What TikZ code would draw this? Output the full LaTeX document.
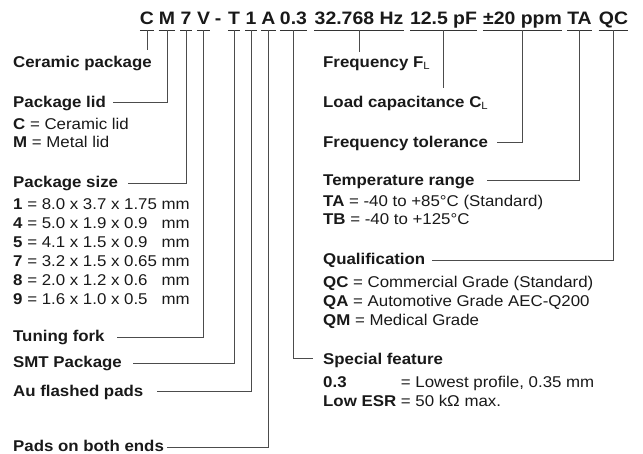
\documentclass[tikz,border=0pt]{standalone}
\usepackage{fontspec}
\setmainfont{Liberation Sans}[FakeStretch=1.08]
\newcommand{\subl}[1]{\raisebox{-1.5pt}{\fontsize{10.5}{10}\selectfont\mdseries #1}}
\tikzset{
  code/.style={anchor=base, inner sep=0pt, text height=13pt, text depth=5pt,
    font=\fontsize{18}{20}\selectfont\bfseries},
  lbl/.style={anchor=base west, inner sep=0pt, text height=11pt, text depth=0pt,
    font=\fontsize{15.6}{18.9}\selectfont\bfseries},
  txt/.style={anchor=base west, inner sep=0pt, font=\fontsize{15.6}{18.9}\selectfont},
  uline/.style={line width=0.8pt, black!80},
  lead/.style={line width=0.8pt, black!70},
}
\begin{document}
\begin{tikzpicture}[x=1pt,y=-1pt,text=black!90]
  \useasboundingbox (0,0) rectangle (643,454);

  % codice
  \node[code] (sC) at (147,25) {C};
  \node[code] (sM) at (167,25) {M};
  \node[code] (s7) at (186,25) {7};
  \node[code] (sV) at (203.5,25) {V};
  \node[code] (sDash) at (218,25) {-};
  \node[code] (sT) at (234,25) {T};
  \node[code] (s1) at (251,25) {1};
  \node[code] (sA) at (268.5,25) {A};
  \node[code] (s03) at (293.5,25) {0.3};
  \node[code] (sHz) at (359,25) {32.768 Hz};
  \node[code] (spF) at (443.5,25) {12.5 pF};
  \node[code] (sppm) at (522.5,25) {±20 ppm};
  \node[code] (sTA) at (579.5,25) {TA};
  \node[code] (sQC) at (613.5,25) {QC};
  \foreach \s in {sC,sM,s7,sV,sT,s1,sA,s03,sHz,spF,sppm,sTA,sQC}
    \draw[uline] (\s.south west) -- (\s.south east);

  % voci a sinistra
  \node[lbl] (ceramic) at (13,68) {Ceramic package};
  \node[lbl] (lid) at (13,108) {Package lid};
  \node[txt] (lidC) at (13,130) {\textbf{C} = Ceramic lid};
  \node[txt] (lidM) at (13,148) {\textbf{M} = Metal lid};
  \node[lbl] (size) at (13,188) {Package size};
  \node[txt] (sizes) at (13,210) {\begin{tabular}[t]{@{}l@{ }l@{}}
    \textbf{1} = 8.0 x 3.7 x 1.75 & mm\\
    \textbf{4} = 5.0 x 1.9 x 0.9 & mm\\
    \textbf{5} = 4.1 x 1.5 x 0.9 & mm\\
    \textbf{7} = 3.2 x 1.5 x 0.65 & mm\\
    \textbf{8} = 2.0 x 1.2 x 0.6 & mm\\
    \textbf{9} = 1.6 x 1.0 x 0.5 & mm
  \end{tabular}};
  \node[lbl] (fork) at (13,342) {Tuning fork};
  \node[lbl] (smt) at (13,368) {SMT Package};
  \node[lbl] (au) at (13,397) {Au flashed pads};
  \node[lbl] (pads) at (13,451) {Pads on both ends};

  % voci a destra
  \node[lbl] (freq) at (323,68) {Frequency F\subl{L}};
  \node[lbl] (load) at (323,108) {Load capacitance C\subl{L}};
  \node[lbl] (tol) at (323,148) {Frequency tolerance};
  \node[lbl] (temp) at (323,186) {Temperature range};
  \node[txt] (tempA) at (323,207) {\textbf{TA} = -40 to +85°C (Standard)};
  \node[txt] (tempB) at (323,225) {\textbf{TB} = -40 to +125°C};
  \node[lbl] (qual) at (323,265) {Qualification};
  \node[txt] (qualC) at (323,288) {\textbf{QC} = Commercial Grade (Standard)};
  \node[txt] (qualA) at (323,307) {\textbf{QA} = Automotive Grade AEC-Q200};
  \node[txt] (qualM) at (323,325.5) {\textbf{QM} = Medical Grade};
  \node[lbl] (special) at (323,365) {Special feature};
  \node[txt] (feat) at (323,388) {\begin{tabular}[t]{@{}l@{ }l@{}}
    \textbf{0.3} & = Lowest profile, 0.35 mm\\
    \textbf{Low ESR} & = 50 kΩ max.
  \end{tabular}};

  % estremi delle linee
  \coordinate (cEnd) at (147,50);
  \coordinate (lidEnd) at (113,102);
  \coordinate (sizeEnd) at (128,183);
  \coordinate (forkEnd) at (117,337);
  \coordinate (smtEnd) at (133,363);
  \coordinate (auEnd) at (157,391);
  \coordinate (padsEnd) at (167,447);
  \coordinate (specEnd) at (313,358);
  \coordinate (hzEnd) at (359,52);
  \coordinate (pfEnd) at (443,88);
  \coordinate (tolEnd) at (497,142);
  \coordinate (tempEnd) at (487,180);
  \coordinate (qualEnd) at (432,260);

  % linee
  \draw[lead] (sC.south) -- (sC.south |- cEnd);
  \draw[lead] (sM.south) |- (lidEnd);
  \draw[lead] (s7.south) |- (sizeEnd);
  \draw[lead] (sV.south) |- (forkEnd);
  \draw[lead] (sT.south) |- (smtEnd);
  \draw[lead] (s1.south) |- (auEnd);
  \draw[lead] (sA.south) |- (padsEnd);
  \draw[lead] (s03.south) |- (specEnd);
  \draw[lead] (sHz.south) -- (sHz.south |- hzEnd);
  \draw[lead] (spF.south) -- (spF.south |- pfEnd);
  \draw[lead] (sppm.south) |- (tolEnd);
  \draw[lead] (sTA.south) |- (tempEnd);
  \draw[lead] (sQC.south) |- (qualEnd);
\end{tikzpicture}
\end{document}
